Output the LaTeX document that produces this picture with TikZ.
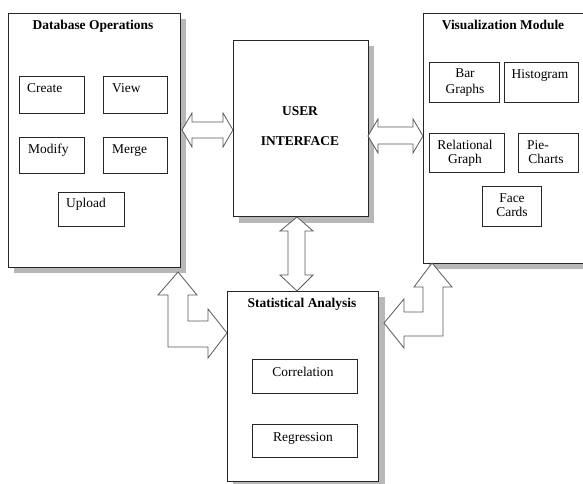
\documentclass[tikz,border=0pt]{standalone}
\usepackage{fontspec}
\setmainfont{Liberation Serif}
\begin{document}
\begin{tikzpicture}[x=1bp,y=-1bp,
  box/.style={draw=black!85, line width=0.9bp, fill=white, rectangle, inner sep=0pt, anchor=north west},
  sbox/.style={draw=black!85, line width=0.8bp, fill=white, rectangle, inner sep=0pt, anchor=north west},
  shade/.style={fill=black!28},
  txt/.style={font=\fontsize{13.5}{15}\selectfont, inner sep=0pt},
  ttl/.style={font=\fontsize{13.5}{15}\selectfont\bfseries, inner sep=0pt},
  blockarrow/.style={draw=black!65, line width=0.8bp, fill=white, line join=miter}]
\useasboundingbox (0,0) rectangle (583,484);
% shadows
\fill[shade] (14,19) rectangle (186,273);
\fill[shade] (239,46) rectangle (374,223);
\fill[shade] (233,297) rectangle (385,488);
\fill[shade] (429,19) rectangle (595,269);
% big boxes
\node[box, minimum width=172bp, minimum height=254bp] (db) at (8,13) {};
\node[box, minimum width=135bp, minimum height=176bp] (ui) at (233,40) {};
\node[box, minimum width=151bp, minimum height=190bp] (stat) at (227,291) {};
\node[box, minimum width=167bp, minimum height=250bp] (viz) at (423,13) {};
% titles
\node[ttl, anchor=base] (dbt) at (93,29.3) {Database Operations};
\node[ttl, anchor=base] (vizt) at (503,29.3) {Visualization Module};
\node[ttl, anchor=base] (statt) at (302,307) {Statistical Analysis};
\node[ttl, anchor=base] (uit1) at (300,116) {USER};
\node[ttl, anchor=base] (uit2) at (300,145.7) {INTERFACE};
% database small boxes
\node[sbox, minimum width=65bp, minimum height=37bp] (create) at (19,76) {};
\node[sbox, minimum width=64bp, minimum height=37bp] (view) at (103,76) {};
\node[sbox, minimum width=65bp, minimum height=36bp] (modify) at (19,137) {};
\node[sbox, minimum width=64bp, minimum height=36bp] (merge) at (103,137) {};
\node[sbox, minimum width=66bp, minimum height=34bp] (upload) at (58,192) {};
\node[txt, anchor=base west] at (27,93) {Create};
\node[txt, anchor=base west] at (112,93) {View};
\node[txt, anchor=base west] at (28,154) {Modify};
\node[txt, anchor=base west] at (112,154) {Merge};
\node[txt, anchor=base west] at (66,208) {Upload};
% visualization small boxes
\node[sbox, minimum width=70bp, minimum height=40bp] (bar) at (429,62) {};
\node[sbox, minimum width=74bp, minimum height=40bp] (hist) at (504,62) {};
\node[sbox, minimum width=75bp, minimum height=39bp] (rel) at (429,133) {};
\node[sbox, minimum width=60bp, minimum height=39bp] (pie) at (518,133) {};
\node[sbox, minimum width=59bp, minimum height=40bp] (face) at (482,186) {};
\node[txt, anchor=base] at (465,77.5) {Bar};
\node[txt, anchor=base] at (465,93.5) {Graphs};
\node[txt, anchor=base] at (540,78.5) {Histogram};
\node[txt, anchor=base] at (465,150) {Relational};
\node[txt, anchor=base] at (465,164) {Graph};
\node[txt, anchor=base west] at (527,150) {Pie-};
\node[txt, anchor=base] at (546,164) {Charts};
\node[txt, anchor=base] at (512,203) {Face};
\node[txt, anchor=base] at (512,217) {Cards};
% statistical small boxes
\node[sbox, minimum width=105bp, minimum height=34bp] (corr) at (252,359) {};
\node[sbox, minimum width=105bp, minimum height=33bp] (reg) at (252,424) {};
\node[txt, anchor=base] at (303,376.7) {Correlation};
\node[txt, anchor=base] at (303,441.7) {Regression};
% block arrows
\draw[blockarrow] (182,130) -- (192,113) -- (192,122) -- (223,122) -- (223,113) -- (233,130)
  -- (223,147) -- (223,138) -- (192,138) -- (192,147) -- cycle;
\draw[blockarrow] (368,136) -- (378,119) -- (378,127) -- (413,127) -- (413,119) -- (423,136)
  -- (413,153) -- (413,144) -- (378,144) -- (378,153) -- cycle;
\draw[blockarrow] (297,217) -- (313,231) -- (305,231) -- (305,275) -- (313,275) -- (297,291)
  -- (280,275) -- (288,275) -- (288,231) -- (280,231) -- cycle;
\draw[blockarrow] (178,272) -- (197,295) -- (188,295) -- (188,321) -- (208,321) -- (208,309)
  -- (227,333) -- (208,358) -- (208,347) -- (168,347) -- (168,295) -- (158,295) -- cycle;
\draw[blockarrow] (432,263) -- (452,287) -- (443,287) -- (443,336) -- (404,336) -- (404,348)
  -- (384,323) -- (404,299) -- (404,312) -- (423,312) -- (423,287) -- (414,287) -- cycle;
\end{tikzpicture}
\end{document}
